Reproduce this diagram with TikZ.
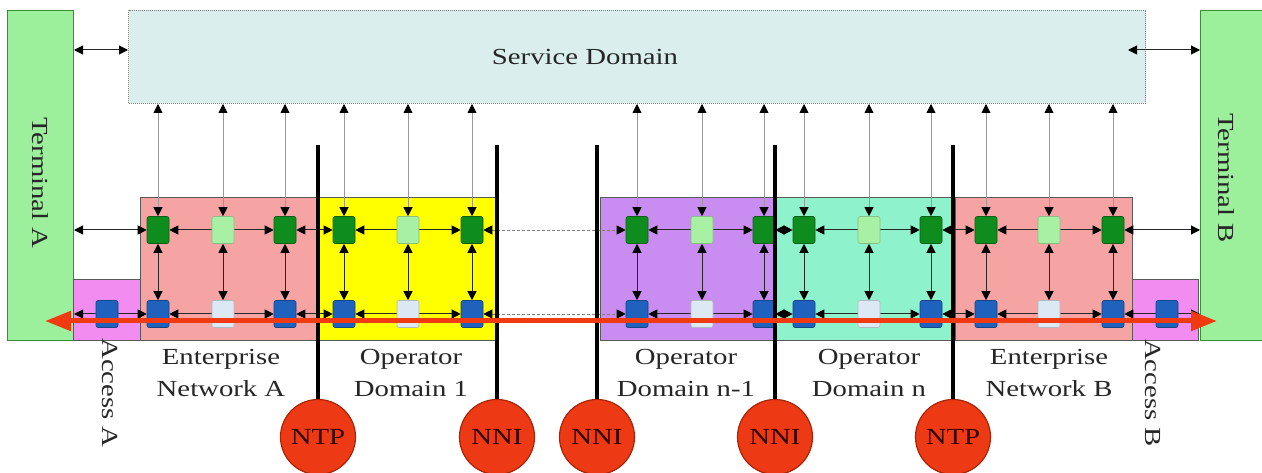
\documentclass[tikz,border=0pt]{standalone}
\usepackage{fontspec}
\setmainfont{Liberation Serif}[FakeStretch=1.25]
\usetikzlibrary{arrows.meta}
\pgfdeclarelayer{back}
\pgfdeclarelayer{mid}
\pgfsetlayers{back,mid,main}
\definecolor{termfill}{HTML}{9CF09C}
\definecolor{termline}{HTML}{3C8C3C}
\definecolor{svcfill}{HTML}{DAEEEE}
\definecolor{entfill}{HTML}{F5A3A3}
\definecolor{op1fill}{HTML}{FFFF00}
\definecolor{opmfill}{HTML}{C98CF0}
\definecolor{opnfill}{HTML}{8EF2CC}
\definecolor{accfill}{HTML}{F28CF0}
\definecolor{dgreen}{HTML}{0E8C1E}
\definecolor{lgreen}{HTML}{A8F0A4}
\definecolor{dblue}{HTML}{1E62BE}
\definecolor{lblue}{HTML}{DCE8F4}
\definecolor{redfill}{HTML}{EE3A14}
\definecolor{redline}{HTML}{A82408}
\definecolor{redarrow}{HTML}{F03A12}
\definecolor{txt}{HTML}{262626}
\tikzset{
  region/.style={draw=black!65, line width=1pt, anchor=north west, inner sep=0pt},
  termbox/.style={region, draw=termline, fill=termfill},
  smallbox/.style={minimum width=22pt, minimum height=27pt, inner sep=0pt, rounded corners=2pt, line width=0.6pt},
  gbox/.style={smallbox, fill=dgreen, draw=dgreen!70!black},
  lgbox/.style={smallbox, fill=lgreen, draw=lgreen!80!black},
  bbox/.style={smallbox, fill=dblue, draw=dblue!70!black},
  lbbox/.style={smallbox, fill=lblue, draw=lblue!80!black},
  headstyle/.style={>={Triangle[length=9pt,width=9pt,color=black]}},
  arrlink/.style={headstyle, <->, line width=1pt, black!85},
  glink/.style={headstyle, <->, line width=0.8pt, black!40},
  dlink/.style={headstyle, <->, line width=0.9pt, black!50, dash pattern=on 3pt off 2pt},
  boundline/.style={line width=3.5pt, black},
  iface/.style={circle, fill=redfill, draw=redline, line width=1.2pt, minimum size=75pt, inner sep=0pt, font=\fontsize{23}{23}\selectfont, text=black!80!red},
  lbl/.style={align=center, inner sep=0pt, font=\fontsize{23}{32}\selectfont, text=txt},
  redarr/.style={{Triangle[length=26pt,width=19pt]}-{Triangle[length=26pt,width=19pt]}, line width=5pt, redarrow},
}
\begin{document}
\begin{tikzpicture}[x=1pt,y=-1pt]
\useasboundingbox (0,0) rectangle (1262,473);
\begin{pgfonlayer}{back}
\node[region, fill=svcfill, draw=black!50, densely dotted, minimum width=1017pt, minimum height=93pt] (svc) at (128,10) {};
\node[termbox, minimum width=66pt, minimum height=330pt] (termA) at (7,10) {};
\node[termbox, minimum width=62pt, minimum height=330pt] (termB) at (1200,10) {};
\node[region, fill=accfill, minimum width=67pt, minimum height=61pt] (accA) at (73,279) {};
\node[region, fill=accfill, minimum width=66pt, minimum height=61pt] (accB) at (1132,279) {};
\node[region, fill=entfill, minimum width=178pt, minimum height=143pt] (entA) at (140,197) {};
\node[region, fill=op1fill, minimum width=179pt, minimum height=143pt] (op1) at (318,197) {};
\node[region, fill=opmfill, minimum width=175pt, minimum height=143pt] (opm) at (600,197) {};
\node[region, fill=opnfill, minimum width=180pt, minimum height=143pt] (opn) at (775,197) {};
\node[region, fill=entfill, minimum width=177pt, minimum height=143pt] (entB) at (955,197) {};
\end{pgfonlayer}
\node[lbl] (svct) at (585,57) {Service Domain};
% small boxes
\foreach \dm/\xa/\xb/\xc in {a/158/223/285, b/344/408/472, c/637/702/764, d/804/869/931, e/986/1049/1113} {
  \node[gbox] (\dm T1) at (\xa,230) {};
  \node[lgbox] (\dm T2) at (\xb,230) {};
  \node[gbox] (\dm T3) at (\xc,230) {};
  \node[bbox] (\dm B1) at (\xa,314) {};
  \node[lbbox] (\dm B2) at (\xb,314) {};
  \node[bbox] (\dm B3) at (\xc,314) {};
}
\node[bbox] (accAb) at (107,314) {};
\node[bbox] (accBb) at (1167,314) {};
% connectors
\begin{pgfonlayer}{mid}
\foreach \dm in {a,b,c,d,e} {
  \foreach \k in {1,2,3} {
    \draw[glink] (\dm T\k.north) -- (\dm T\k.north |- svc.south);
    \draw[arrlink] (\dm T\k.south) -- (\dm B\k.north);
  }
  \draw[arrlink] (\dm T1.east) -- (\dm T3.west);
  \draw[arrlink] (\dm B1.east) -- (\dm B3.west);
}
\draw[arrlink] (aT3.east) -- (bT1.west);
\draw[dlink] (bT3.east) -- (cT1.west);
\draw[arrlink] (cT3.east) -- (dT1.west);
\draw[arrlink] (dT3.east) -- (eT1.west);
\draw[arrlink] (aB3.east) -- (bB1.west);
\draw[dlink] (bB3.east) -- (cB1.west);
\draw[arrlink] (cB3.east) -- (dB1.west);
\draw[arrlink] (dB3.east) -- (eB1.west);
\draw[arrlink] (termA.east |- aT1.west) -- (aT1.west);
\draw[arrlink] (eT3.east) -- (termB.west |- eT3.east);
\draw[arrlink] (termA.east |- aB1.west) -- (aB1.west);
\draw[arrlink] (eB3.east) -- (termB.west |- eB3.east);
\path (termA.north east) ++(0,40) coordinate (tA);
\path (termB.north west) ++(0,40) coordinate (tB);
\path (tB -| svc.east) ++(-18,0) coordinate (tBs);
\draw[arrlink] (tA) -- (tA -| svc.west);
\draw[arrlink] (tBs) -- (tB);
\end{pgfonlayer}
% boundaries and interfaces
\foreach \nm/\xx/\lab in {i1/318/NTP, i2/497/NNI, i3/597/NNI, i4/775/NNI, i5/953/NTP} {
  \coordinate (\nm top) at (\xx,145);
  \node[iface] (\nm) at (\xx,437) {\lab};
  \draw[boundline] (\nm top) -- (\nm.north);
}
% end-to-end red arrow
\coordinate (redL) at (45,321);
\coordinate (redR) at (1217,321);
\draw[redarr] (redL) -- (redR);
% labels
\node[lbl, rotate=-90] (lTA) at (40,183) {Terminal A};
\node[lbl, rotate=-90] (lTB) at (1226,178) {Terminal B};
\node[lbl, rotate=-90] (lAA) at (110,393) {Access A};
\node[lbl, rotate=-90] (lAB) at (1153,393) {Access B};
\node[lbl, anchor=north] (lEA) at (221,349) {Enterprise\\Network A};
\node[lbl, anchor=north] (lO1) at (411,349) {Operator\\Domain 1};
\node[lbl, anchor=north] (lOm) at (686,349) {Operator\\Domain n-1};
\node[lbl, anchor=north] (lOn) at (869,349) {Operator\\Domain n};
\node[lbl, anchor=north] (lEB) at (1049,349) {Enterprise\\Network B};
\end{tikzpicture}
\end{document}
